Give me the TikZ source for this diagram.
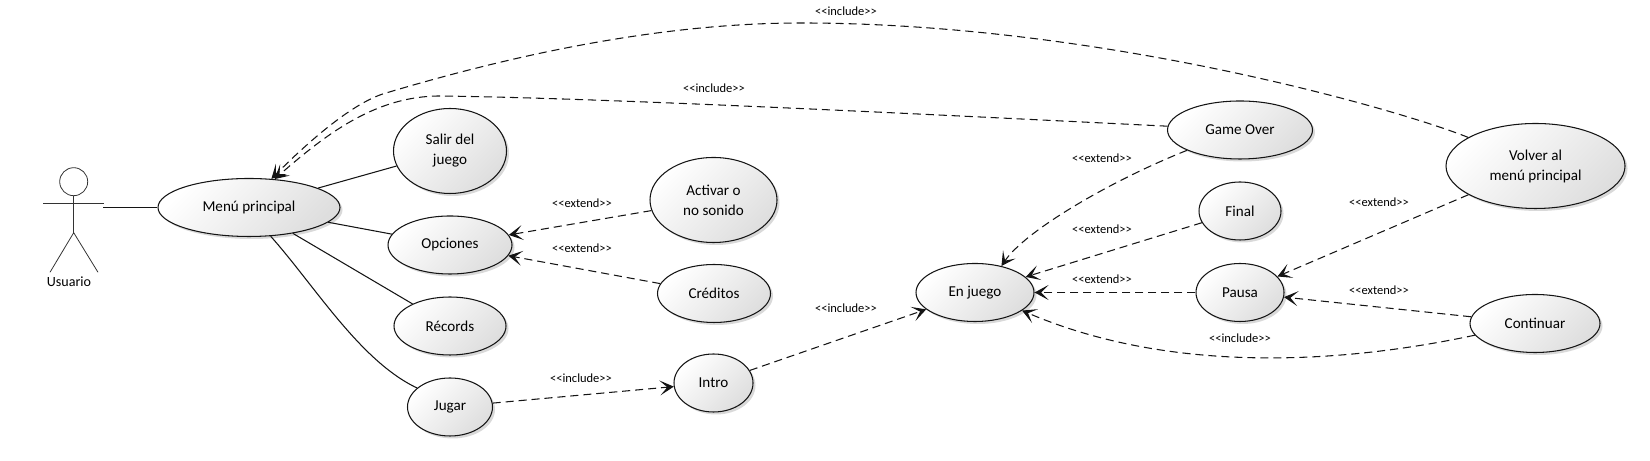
\documentclass[tikz,border=0pt]{standalone}
\usepackage{fontspec}
\setmainfont{Carlito}
\usepackage{tikz}
\usetikzlibrary{shapes,arrows.meta,shadows}
\definecolor{caseline}{RGB}{20,20,20}
\definecolor{casefill}{RGB}{222,222,222}
\newcommand{\incl}{<{}<include>{}>}
\newcommand{\extd}{<{}<extend>{}>}
\tikzset{
    usecase/.style={ellipse, draw=caseline, line width=0.6pt, inner sep=0pt, minimum height=1.16cm,
        left color=white, right color=casefill, shading angle=45, align=center,
        font=\fontsize{8.6}{11.4}\selectfont,
        drop shadow={shadow xshift=0.05cm, shadow yshift=-0.05cm, opacity=0.15, fill=black}},
    bigcase/.style={usecase, minimum height=1.7cm},
    assoc/.style={line width=0.6pt, caseline},
    rel/.style={line width=0.6pt, caseline, dash pattern=on 4.6pt off 2.8pt,
        -{Stealth[length=0.28cm, width=0.3cm, inset=0.15cm]}},
    stereo/.style={font=\fontsize{7.1}{8}\selectfont},
    stick/.style={line width=0.45pt, black!80},
}
\begin{document}
\begin{tikzpicture}
    \useasboundingbox (0, 0) rectangle (33, 9.22);

    % Actor
    \node[circle, stick, draw, inner sep=0pt, minimum size=0.56cm] (head) at (1.474, 5.586) {};
    \coordinate (crotch) at (1.474, 4.566);
    \coordinate (armL) at (0.86, 5.15);
    \coordinate (armR) at (2.08, 5.15);
    \coordinate (footL) at (1.0, 3.774);
    \coordinate (footR) at (1.96, 3.774);
    \coordinate (hand) at (2.06, 5.07);
    \draw[stick] (head) -- (crotch);
    \draw[stick] (armL) -- (armR);
    \draw[stick] (footL) -- (crotch) -- (footR);
    \node[font=\fontsize{8}{10}\selectfont] (usuario) at (1.38, 3.58) {Usuario};

    % Use cases
    \node[usecase, minimum width=3.64cm] (menu) at (4.98, 5.07) {Menú principal};
    \node[bigcase, minimum width=2.26cm] (salir) at (9, 6.2) {Salir del\\juego};
    \node[usecase, minimum width=2.48cm] (opciones) at (9, 4.32) {Opciones};
    \node[usecase, minimum width=2.24cm] (records) at (9, 2.7) {Récords};
    \node[usecase, minimum width=1.7cm] (jugar) at (9, 1.08) {Jugar};
    \node[bigcase, minimum width=2.54cm] (activar) at (14.27, 5.22) {Activar o\\no sonido};
    \node[usecase, minimum width=2.26cm] (creditos) at (14.28, 3.35) {Créditos};
    \node[usecase, minimum width=1.58cm] (intro) at (14.27, 1.56) {Intro};
    \node[usecase, minimum width=2.36cm] (enjuego) at (19.5, 3.37) {En juego};
    \node[usecase, minimum width=2.9cm] (gameover) at (24.8, 6.62) {Game Over};
    \node[usecase, minimum width=1.64cm] (final) at (24.8, 5) {Final};
    \node[usecase, minimum width=1.76cm] (pausa) at (24.8, 3.37) {Pausa};
    \node[bigcase, minimum width=3.58cm] (volver) at (30.71, 5.9) {Volver al\\menú principal};
    \node[usecase, minimum width=2.6cm] (continuar) at (30.7, 2.75) {Continuar};

    % Associations
    \draw[assoc] (hand) -- (menu);
    \draw[assoc] (menu) -- (salir);
    \draw[assoc] (menu) -- (opciones);
    \draw[assoc] (menu) -- (records);
    \draw[assoc] (menu.307) .. controls (6.3, 3.5) and (7.2, 2) .. (jugar.150);

    % Extend and include
    \draw[rel] (activar) -- (opciones);
    \draw[rel] (creditos) -- (opciones);
    \draw[rel] (jugar) -- (intro);
    \draw[rel] (intro) -- (enjuego);
    \draw[rel] (final) -- (enjuego);
    \draw[rel] (pausa) -- (enjuego);
    \draw[rel] (volver) -- (pausa);
    \draw[rel] (continuar) -- (pausa);
    \draw[rel] (gameover.201) .. controls (22.2, 5.6) and (20.5, 4.6) .. (enjuego.45);
    \draw[rel] (continuar.191) .. controls (26.8, 1.94) and (23.4, 1.74) .. (enjuego.339);
    \draw[rel] (gameover.177) .. controls (18, 6.96) and (12, 7.26) .. (8.8, 7.3)
        .. controls (7.5, 7.3) and (6.5, 6.52) .. (menu.48);
    \draw[rel] (volver.157) .. controls (28, 7.02) and (22, 8.76) .. (16.02, 8.76)
        .. controls (12.8, 8.76) and (9.6, 7.92) .. (7.72, 7.36)
        .. controls (7, 7.16) and (6, 6.22) .. (menu.52);

    % Stereotypes
    \node[stereo] (l1) at (16.92, 9) {\incl};
    \node[stereo] (l2) at (14.28, 7.46) {\incl};
    \node[stereo] (l3) at (11.64, 5.16) {\extd};
    \node[stereo] (l4) at (11.64, 4.26) {\extd};
    \node[stereo] (l5) at (11.62, 1.66) {\incl};
    \node[stereo] (l6) at (16.92, 3.06) {\incl};
    \node[stereo] (l7) at (22.04, 6.06) {\extd};
    \node[stereo] (l8) at (22.04, 4.63) {\extd};
    \node[stereo] (l9) at (22.04, 3.64) {\extd};
    \node[stereo] (l10) at (27.58, 5.18) {\extd};
    \node[stereo] (l11) at (27.58, 3.42) {\extd};
    \node[stereo] (l12) at (24.8, 2.46) {\incl};
\end{tikzpicture}
\end{document}
